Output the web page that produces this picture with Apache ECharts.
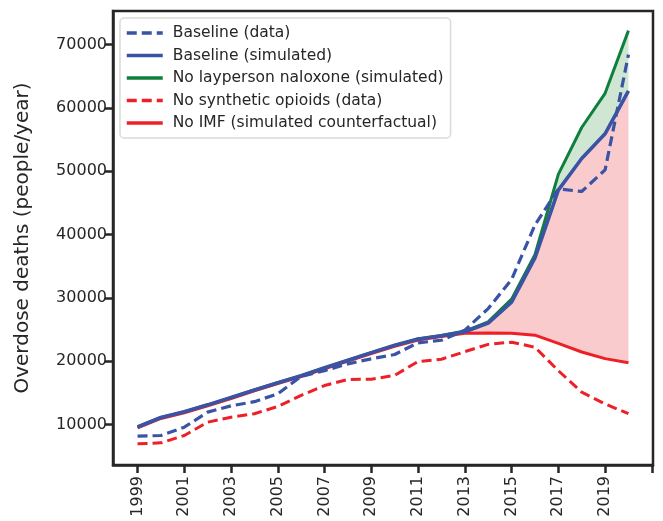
<!DOCTYPE html>
<html>
<head>
<meta charset="utf-8">
<script src="https://cdn.jsdelivr.net/npm/echarts@6/dist/echarts.min.js"></script>
<style>
  html, body { margin: 0; padding: 0; background: #ffffff; }
  #chart { width: 663px; height: 521px; }
</style>
</head>
<body>
<div id="chart"></div>
<script>
// Opioid overdose deaths in the US, observed and simulated scenarios
const years = [1999, 2000, 2001, 2002, 2003, 2004, 2005, 2006, 2007, 2008, 2009,
               2010, 2011, 2012, 2013, 2014, 2015, 2016, 2017, 2018, 2019, 2020];

const baselineData = [8150, 8260, 9570, 11950, 12940, 13600, 14850, 17600, 18500, 19580, 20370,
                      21050, 22900, 23300, 24900, 28300, 32900, 41500, 47200, 46800, 50200, 68400];

const baselineSim = [9600, 11100, 12000, 13100, 14250, 15450, 16600, 17700, 18950, 20150, 21350,
                     22500, 23500, 24000, 24650, 26000, 29300, 36300, 47000, 52000, 55900, 62700];

const noNaloxoneSim = [9600, 11100, 12000, 13100, 14250, 15450, 16600, 17700, 18950, 20150, 21350,
                       22500, 23500, 24050, 24750, 26200, 29800, 36800, 49500, 56900, 62300, 72200];

const noSyntheticData = [6950, 7100, 8260, 10360, 11150, 11700, 12850, 14600, 16150, 17100, 17150,
                         17750, 19950, 20300, 21500, 22650, 23000, 22200, 18500, 15100, 13250, 11700];

const noImfSim = [9450, 10950, 11850, 12950, 14100, 15300, 16450, 17550, 18800, 20000, 21200,
                  22350, 23350, 23900, 24400, 24450, 24400, 24100, 22800, 21450, 20400, 19750];

const xTicks = [1999, 2001, 2003, 2005, 2007, 2009, 2011, 2013, 2015, 2017, 2019, 2021];
const xTickLabels = [1999, 2001, 2003, 2005, 2007, 2009, 2011, 2013, 2015, 2017, 2019];
const yTicks = [10000, 20000, 30000, 40000, 50000, 60000, 70000];

const names = {
  baseData: 'Baseline (data)',
  baseSim: 'Baseline (simulated)',
  noNal: 'No layperson naloxone (simulated)',
  noSyn: 'No synthetic opioids (data)',
  noImf: 'No IMF (simulated counterfactual)'
};

const BLUE = '#3a53a4';
const GREEN = '#0f7f3d';
const RED = '#ee2027';
const INK = '#262626';
const FONT = 'DejaVu Sans';

const pairs = (vals) => years.map((y, i) => [y, vals[i]]);

function lineSeries(name, vals, color, width, dashed, z) {
  return {
    name: name,
    type: 'line',
    data: pairs(vals),
    symbol: 'none',
    smooth: false,
    z: z,
    lineStyle: { color: color, width: width, type: dashed ? [10, 5] : 'solid', cap: 'butt' },
    itemStyle: { color: color },
    emphasis: { disabled: true }
  };
}

// Shaded region between two curves, drawn as one polygon in data coordinates
function bandSeries(upper, lower, color) {
  return {
    type: 'custom',
    silent: true,
    z: 1,
    clip: true,
    data: [[years[0], lower[0]]],
    encode: { x: 0, y: 1 },
    renderItem: (params, api) => {
      const pts = [];
      for (let i = 0; i < years.length; i++) pts.push(api.coord([years[i], upper[i]]));
      for (let i = years.length - 1; i >= 0; i--) pts.push(api.coord([years[i], lower[i]]));
      return { type: 'polygon', shape: { points: pts }, style: { fill: color } };
    }
  };
}

const chart = echarts.init(document.getElementById('chart'), null, { renderer: 'canvas' });

chart.setOption({
  animation: false,
  backgroundColor: '#ffffff',
  textStyle: { fontFamily: FONT },
  grid: {
    left: 113, right: 10, top: 11, bottom: 56,
    show: true, borderColor: INK, borderWidth: 2.5, backgroundColor: 'transparent'
  },
  legend: {
    orient: 'vertical',
    left: 120, top: 18,
    data: [names.baseData, names.baseSim, names.noNal, names.noSyn, names.noImf],
    itemWidth: 36, itemHeight: 16, itemGap: 6.5,
    padding: [7, 7, 7, 5],
    borderColor: '#dadada', borderWidth: 1.5, borderRadius: 4,
    backgroundColor: 'rgba(255,255,255,0.85)',
    lineStyle: { width: 3.5 },
    itemStyle: { opacity: 0, borderWidth: 0 },
    textStyle: { fontFamily: FONT, fontSize: 15.5, color: INK, lineHeight: 16, padding: [0, 0, 0, 5] },
    selectedMode: false
  },
  xAxis: {
    type: 'value',
    min: 1997.95, max: 2021.05,
    axisLine: { show: true, lineStyle: { color: INK, width: 2.5 } },
    splitLine: { show: false },
    axisTick: { show: true, length: 8, lineStyle: { color: INK, width: 2.5 }, customValues: xTicks },
    axisLabel: {
      customValues: xTickLabels, rotate: 90, margin: 11,
      fontFamily: FONT, fontSize: 16, color: INK,
      formatter: (v) => String(v)
    }
  },
  yAxis: {
    type: 'value',
    min: 3600, max: 75300,
    name: 'Overdose deaths (people/year)',
    nameLocation: 'middle', nameRotate: 90, nameGap: 80,
    nameTextStyle: { fontFamily: FONT, fontSize: 20, color: INK },
    axisLine: { show: true, lineStyle: { color: INK, width: 2.5 } },
    splitLine: { show: false },
    axisTick: { show: true, length: 8, lineStyle: { color: INK, width: 2.5 }, customValues: yTicks },
    axisLabel: {
      customValues: yTicks, margin: 6,
      fontFamily: FONT, fontSize: 16, color: INK,
      formatter: (v) => String(v)
    }
  },
  series: [
    bandSeries(baselineSim, noImfSim, '#f9cbcc'),
    bandSeries(noNaloxoneSim, baselineSim, '#cfe6d3'),
    lineSeries(names.noNal, noNaloxoneSim, GREEN, 3, false, 3),
    lineSeries(names.noImf, noImfSim, RED, 3, false, 4),
    lineSeries(names.noSyn, noSyntheticData, RED, 3, true, 4),
    lineSeries(names.baseData, baselineData, BLUE, 3.2, true, 5),
    lineSeries(names.baseSim, baselineSim, BLUE, 3.6, false, 6)
  ]
});
</script>
</body>
</html>
